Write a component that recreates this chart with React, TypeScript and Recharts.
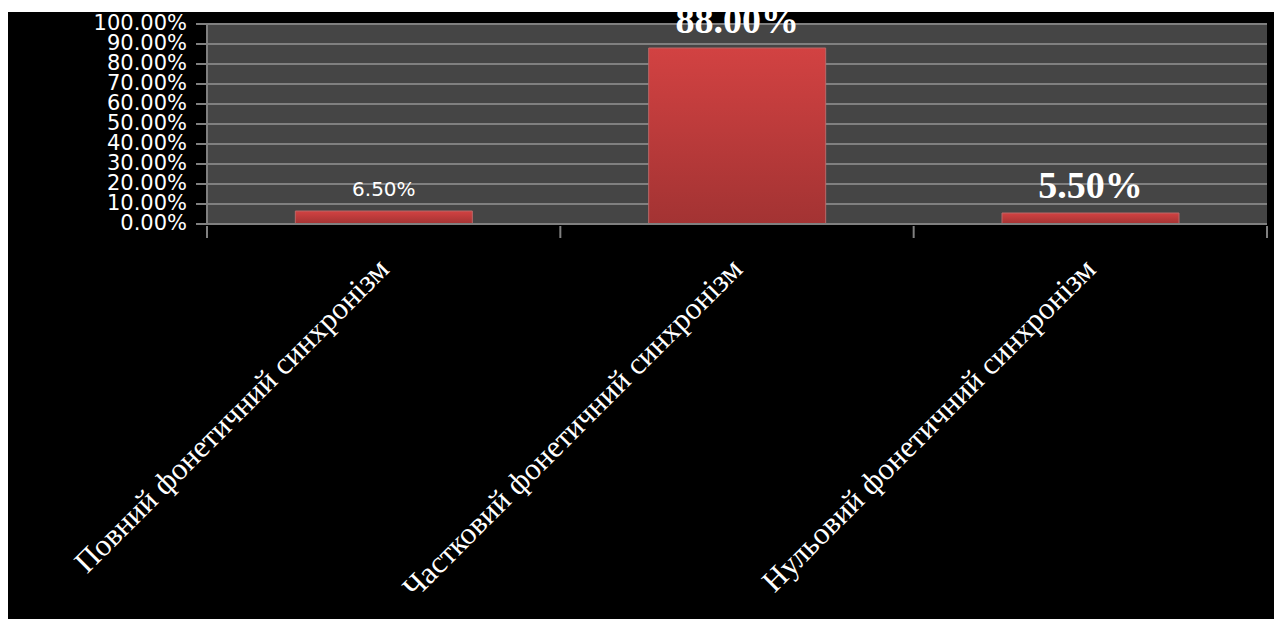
import { Bar, BarChart, CartesianGrid, LabelList, XAxis, YAxis } from "recharts";

const categories = [
  "Повний фонетичний синхронізм",
  "Частковий фонетичний синхронізм",
  "Нульовий фонетичний синхронізм",
];
const shares = [6.5, 88.0, 5.5];
const yTicks = [0, 10, 20, 30, 40, 50, 60, 70, 80, 90, 100];

const data = categories.map((name, i) => ({ name, share: shares[i] }));

// label look differs per bar in the original
const labelStyles = [
  { fontFamily: "DejaVu Sans", fontSize: 20, fontWeight: 400 },
  { fontFamily: "Liberation Serif", fontSize: 38, fontWeight: 700 },
  { fontFamily: "Liberation Serif", fontSize: 38, fontWeight: 700 },
];

const pct = (v: number) => `${v.toFixed(2)}%`;

function CategoryTick(props: any) {
  const { x, y, payload, index, width, visibleTicksCount } = props;
  const band = width / visibleTicksCount;
  const ax = x + 7;
  const ay = y + 37;
  return (
    <g>
      <line x1={x - band / 2} y1={y - 8} x2={x - band / 2} y2={y + 4} stroke="#808080" strokeWidth={2} />
      {index === visibleTicksCount - 1 && (
        <line x1={x + band / 2} y1={y - 8} x2={x + band / 2} y2={y + 4} stroke="#808080" strokeWidth={2} />
      )}
      <text
        x={ax}
        y={ay}
        textAnchor="end"
        fill="#ffffff"
        fontFamily="Liberation Serif"
        fontSize={31}
        transform={`rotate(-45, ${ax}, ${ay})`}
      >
        {payload.value}
      </text>
    </g>
  );
}

function ValueLabel(props: any) {
  const { x, y, width, value, index } = props;
  const s = labelStyles[index];
  return (
    <text
      x={x + width / 2}
      y={y - 15}
      textAnchor="middle"
      fill="#ffffff"
      fontFamily={s.fontFamily}
      fontSize={s.fontSize}
      fontWeight={s.fontWeight}
    >
      {pct(value)}
    </text>
  );
}

function PercentTick(props: any) {
  const { x, y, payload } = props;
  return (
    <text
      x={x}
      y={y - 1}
      dy="0.355em"
      textAnchor="end"
      fill="#ffffff"
      fontFamily="DejaVu Sans"
      fontSize={21}
    >
      {pct(payload.value)}
    </text>
  );
}

export default function App() {
  return (
    <div style={{ marginTop: 4, width: 1274, height: 607, background: "#000" }}>
      <BarChart
        width={1274}
        height={607}
        data={data}
        margin={{ top: 12, right: 15, bottom: 0, left: 0 }}
        barCategoryGap="25%"
      >
        <defs>
          <linearGradient id="barFill" x1="0" y1="0" x2="0" y2="1">
            <stop offset="0%" stopColor="#d24242" />
            <stop offset="100%" stopColor="#a33333" />
          </linearGradient>
        </defs>
        <CartesianGrid
          vertical={false}
          fill="#454545"
          stroke="#808080"
          strokeWidth={2}
          strokeOpacity={1}
        />
        <YAxis
          width={199}
          domain={[0, 100]}
          ticks={yTicks}
          interval={0}
          axisLine={{ stroke: "#808080", strokeWidth: 2 }}
          tickLine={{ stroke: "#808080", strokeWidth: 2 }}
          tickSize={11}
          tickMargin={9}
          tick={<PercentTick />}
        />
        <XAxis
          dataKey="name"
          height={395}
          interval={0}
          axisLine={{ stroke: "#808080", strokeWidth: 2 }}
          tickLine={false}
          tickSize={8}
          tick={<CategoryTick />}
        />
        <Bar dataKey="share" fill="url(#barFill)" stroke="#b86868" strokeWidth={1} isAnimationActive={false}>
          <LabelList dataKey="share" content={<ValueLabel />} />
        </Bar>
      </BarChart>
    </div>
  );
}
